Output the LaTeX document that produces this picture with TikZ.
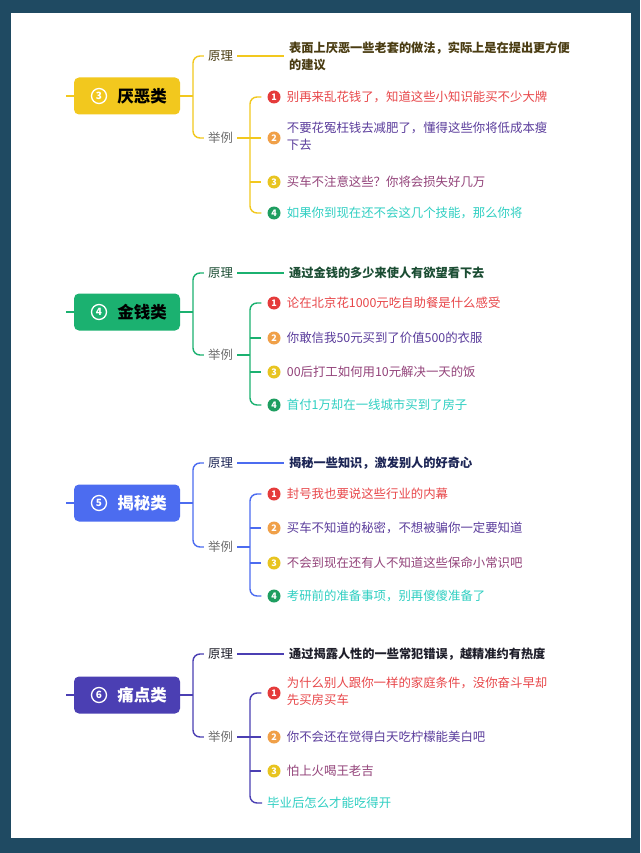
\documentclass[tikz,border=0pt]{standalone}
\usepackage{fontspec}
\setmainfont{Noto Sans CJK SC}
\definecolor{frame}{HTML}{1F4A62}
\definecolor{yel}{HTML}{F2C81E}
\definecolor{grn}{HTML}{1BB170}
\definecolor{blu}{HTML}{4C6CF0}
\definecolor{ind}{HTML}{4B3FB3}
\definecolor{pY}{HTML}{4A3C12}
\definecolor{pG}{HTML}{1B4D33}
\definecolor{pB}{HTML}{1C2555}
\definecolor{pI}{HTML}{1E1E2A}
\definecolor{cR}{HTML}{E8474A}
\definecolor{cP}{HTML}{5B3D9C}
\definecolor{cM}{HTML}{93437A}
\definecolor{cC}{HTML}{2FCFC2}
\definecolor{bR}{HTML}{E53B3B}
\definecolor{bO}{HTML}{F0A048}
\definecolor{bY}{HTML}{E8C420}
\definecolor{bG}{HTML}{1E9E60}
\definecolor{lg}{HTML}{6E6E6E}
\tikzset{
  hdr/.style={rounded corners=5pt, minimum width=106pt, minimum height=37pt, inner sep=0pt},
  hnum/.style={circle, draw=white, line width=1.3pt, minimum size=15pt, inner sep=0pt, text=white, font=\fontsize{10}{10}\selectfont\bfseries},
  htitle/.style={font=\fontsize{16.5}{16.5}\selectfont\bfseries, inner sep=0pt},
  lbl/.style={font=\fontsize{12.4}{14}\selectfont, inner sep=4pt},
  prin/.style={font=\fontsize{12.2}{17}\selectfont\bfseries, anchor=west, align=left, inner sep=5pt},
  itm/.style={font=\fontsize{12.4}{17}\selectfont, anchor=west, align=left, inner sep=6pt},
  itmb/.style={font=\fontsize{12.4}{17}\selectfont, anchor=west, align=left, inner sep=5pt},
  bul/.style={circle, minimum size=13pt, inner sep=0pt, text=white, font=\fontsize{9}{9}\selectfont\bfseries},
  ln/.style={line width=1.4pt},
  rc/.style={rounded corners=7pt},
}
\begin{document}
\begin{tikzpicture}[x=1pt,y=-1pt]
\useasboundingbox (0,0) rectangle (640,853);
\fill[frame] (0,0) rectangle (640,853);
\fill[white] (11,13) rectangle (631,838);

% ===== Section 3 (yellow)
\node[hdr, fill=yel] (b3) at (127,96) {};
\node[hnum] (n3) at (99,96) {3};
\node[htitle, text=black] (h3) at (142,96) {厌恶类};
\coordinate (s3) at (66,96);
\draw[ln,yel] (s3) -- (b3.west);
\coordinate (t3) at (193,96);
\draw[ln,yel] (b3.east) -- (t3);
\node[lbl, text=pY] (y3) at (220.5,56) {原理};
\node[lbl, text=lg] (j3) at (220.5,138) {举例};
\draw[ln,yel,rc] (y3.west) -| (t3) |- (j3.west);
\node[prin, text=pY] (p3) at (284,56) {表面上厌恶一些老套的做法，实际上是在提出更方便\\的建议};
\draw[ln,yel] (y3.east) -- (p3.west);
\coordinate (u3) at (250,138);
\draw[ln,yel] (j3.east) -- (u3);
\node[bul, fill=bR] (a31) at (274,97) {1};
\node[itm, text=cR] (c31) at (a31.east) {别再来乱花钱了，知道这些小知识能买不少大牌};
\node[bul, fill=bO] (a32) at (274,138) {2};
\node[itm, text=cP] (c32) at ([yshift=1.5]a32.east) {不要花冤枉钱去减肥了，懂得这些你将低成本瘦\\下去};
\node[bul, fill=bY] (a33) at (274,182) {3};
\node[itm, text=cM] (c33) at (a33.east) {买车不注意这些？你将会损失好几万};
\node[bul, fill=bG] (a34) at (274,213) {4};
\node[itm, text=cC] (c34) at (a34.east) {如果你到现在还不会这几个技能，那么你将};
\draw[ln,yel,rc,shorten <=6pt,shorten >=6pt] (a31.west) -| (u3) |- (a34.west);
\draw[ln,yel,shorten >=6pt] (u3 |- a32) -- (a32.west);
\draw[ln,yel,shorten >=6pt] (u3 |- a33) -- (a33.west);

% ===== Section 4 (green)
\node[hdr, fill=grn] (b4) at (127,312) {};
\node[hnum] (n4) at (99,312) {4};
\node[htitle, text=black] (h4) at (142,312) {金钱类};
\coordinate (s4) at (66,312);
\draw[ln,grn] (s4) -- (b4.west);
\coordinate (t4) at (193,312);
\draw[ln,grn] (b4.east) -- (t4);
\node[lbl, text=pG] (y4) at (220.5,273) {原理};
\node[lbl, text=lg] (j4) at (220.5,355) {举例};
\draw[ln,grn,rc] (y4.west) -| (t4) |- (j4.west);
\node[prin, text=pG] (p4) at (284,273) {通过金钱的多少来使人有欲望看下去};
\draw[ln,grn] (y4.east) -- (p4.west);
\coordinate (u4) at (250,355);
\draw[ln,grn] (j4.east) -- (u4);
\node[bul, fill=bR] (a41) at (274,303) {1};
\node[itm, text=cR] (c41) at (a41.east) {论在北京花1000元吃自助餐是什么感受};
\node[bul, fill=bO] (a42) at (274,338) {2};
\node[itm, text=cP] (c42) at (a42.east) {你敢信我50元买到了价值500的衣服};
\node[bul, fill=bY] (a43) at (274,372) {3};
\node[itm, text=cM] (c43) at (a43.east) {00后打工如何用10元解决一天的饭};
\node[bul, fill=bG] (a44) at (274,405) {4};
\node[itm, text=cC] (c44) at (a44.east) {首付1万却在一线城市买到了房子};
\draw[ln,grn,rc,shorten <=6pt,shorten >=6pt] (a41.west) -| (u4) |- (a44.west);
\draw[ln,grn,shorten >=6pt] (u4 |- a42) -- (a42.west);
\draw[ln,grn,shorten >=6pt] (u4 |- a43) -- (a43.west);

% ===== Section 5 (blue)
\node[hdr, fill=blu] (b5) at (127,503) {};
\node[hnum] (n5) at (99,503) {5};
\node[htitle, text=white] (h5) at (142,503) {揭秘类};
\coordinate (s5) at (66,503);
\draw[ln,blu] (s5) -- (b5.west);
\coordinate (t5) at (193,503);
\draw[ln,blu] (b5.east) -- (t5);
\node[lbl, text=pB] (y5) at (220.5,463) {原理};
\node[lbl, text=lg] (j5) at (220.5,547) {举例};
\draw[ln,blu,rc] (y5.west) -| (t5) |- (j5.west);
\node[prin, text=pB] (p5) at (284,463) {揭秘一些知识，激发别人的好奇心};
\draw[ln,blu] (y5.east) -- (p5.west);
\coordinate (u5) at (250,547);
\draw[ln,blu] (j5.east) -- (u5);
\node[bul, fill=bR] (a51) at (274,494) {1};
\node[itm, text=cR] (c51) at (a51.east) {封号我也要说这些行业的内幕};
\node[bul, fill=bO] (a52) at (274,528) {2};
\node[itm, text=cP] (c52) at (a52.east) {买车不知道的秘密，不想被骗你一定要知道};
\node[bul, fill=bY] (a53) at (274,563) {3};
\node[itm, text=cM] (c53) at (a53.east) {不会到现在还有人不知道这些保命小常识吧};
\node[bul, fill=bG] (a54) at (274,596) {4};
\node[itm, text=cC] (c54) at (a54.east) {考研前的准备事项，别再傻傻准备了};
\draw[ln,blu,rc,shorten <=6pt,shorten >=6pt] (a51.west) -| (u5) |- (a54.west);
\draw[ln,blu,shorten >=6pt] (u5 |- a52) -- (a52.west);
\draw[ln,blu,shorten >=6pt] (u5 |- a53) -- (a53.west);

% ===== Section 6 (indigo)
\node[hdr, fill=ind] (b6) at (127,695) {};
\node[hnum] (n6) at (99,695) {6};
\node[htitle, text=white] (h6) at (142,695) {痛点类};
\coordinate (s6) at (66,695);
\draw[ln,ind] (s6) -- (b6.west);
\coordinate (t6) at (193,695);
\draw[ln,ind] (b6.east) -- (t6);
\node[lbl, text=pI] (y6) at (220.5,654) {原理};
\node[lbl, text=lg] (j6) at (220.5,737) {举例};
\draw[ln,ind,rc] (y6.west) -| (t6) |- (j6.west);
\node[prin, text=pI] (p6) at (284,654) {通过揭露人性的一些常犯错误，越精准约有热度};
\draw[ln,ind] (y6.east) -- (p6.west);
\coordinate (u6) at (250,737);
\draw[ln,ind] (j6.east) -- (u6);
\node[bul, fill=bR] (a61) at (274,693) {1};
\node[itm, text=cR] (c61) at ([yshift=2]a61.east) {为什么别人跟你一样的家庭条件，没你奋斗早却\\先买房买车};
\node[bul, fill=bO] (a62) at (274,737) {2};
\node[itm, text=cP] (c62) at (a62.east) {你不会还在觉得白天吃柠檬能美白吧};
\node[bul, fill=bY] (a63) at (274,771) {3};
\node[itm, text=cM] (c63) at (a63.east) {怕上火喝王老吉};
\node[itmb, text=cC] (c64) at (262,803) {毕业后怎么才能吃得开};
\draw[ln,ind,rc,shorten <=6pt] (a61.west) -| (u6) |- (c64.west);
\draw[ln,ind,shorten >=6pt] (u6 |- a62) -- (a62.west);
\draw[ln,ind,shorten >=6pt] (u6 |- a63) -- (a63.west);
\end{tikzpicture}
\end{document}
